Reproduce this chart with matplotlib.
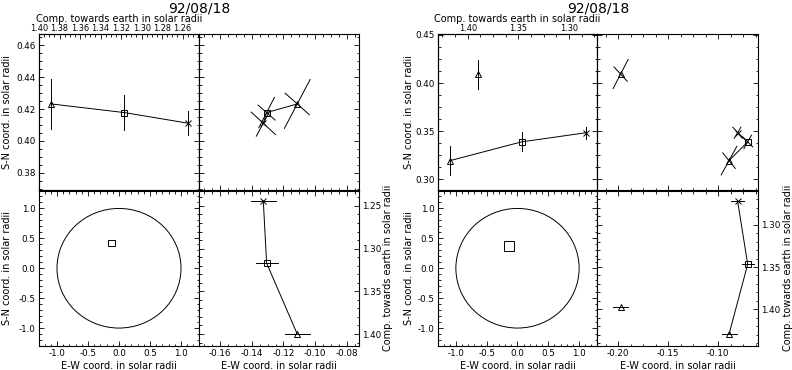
import matplotlib
matplotlib.use("Agg")
import matplotlib.pyplot as plt
from matplotlib.ticker import MultipleLocator, FormatStrFormatter
from matplotlib.patches import Circle, Rectangle

plt.rcParams['font.family'] = ['Liberation Sans Narrow', 'DejaVu Sans']
plt.rcParams['font.size'] = 7
plt.rcParams['xtick.labelsize'] = 6.3
plt.rcParams['ytick.labelsize'] = 6.3
plt.rcParams['axes.unicode_minus'] = False
plt.rcParams['axes.linewidth'] = 0.8

date_label = "92/08/18"
lbl_z = "Comp. towards earth in solar radii"
lbl_sn = "S-N coord. in solar radii"
lbl_ew = "E-W coord. in solar radii"

# left set: triangle, square, cross
left_ew = [-0.1113, -0.1306, -0.1327]
left_sn = [0.4232, 0.4178, 0.4111]
left_z = [1.400, 1.317, 1.244]
left_sn_err = [0.0154, 0.0109, 0.0076]
left_ew_err = [0.0079, 0.0070, 0.0078]
left_arm_a = [(0.0081, 0.0153), (0.0049, 0.0095), (0.0044, 0.0081)]
left_arm_b = [(-0.0076, 0.0067), (-0.0054, 0.0047), (-0.0076, 0.0070)]
left_marks = ['^', 's', 'x']
left_joined = 3

# right set: triangle, square, cross, lone triangle
right_ew = [-0.0893, -0.0706, -0.0807, -0.1977]
right_sn = [0.3195, 0.3390, 0.3485, 0.4094]
right_z = [1.4294, 1.3467, 1.2722, 1.397]
right_sn_err = [0.0153, 0.0099, 0.0064, 0.0151]
right_ew_err = [0.0075, 0.0058, 0.0062, 0.0072]
right_arm_a = [(0.0078, 0.0148), (0.0038, 0.0070), (0.0033, 0.0057), (0.0075, 0.0151)]
right_arm_b = [(-0.0063, 0.0081), (-0.0050, 0.0052), (-0.0047, 0.0057), (-0.0067, 0.0075)]
right_marks = ['^', 's', 'x', '^']
right_joined = 3

W, H = 792, 370
fig = plt.figure(figsize=(W / 100, H / 100), dpi=100)


def box(x0, y0, x1, y1):
    # pixel box (top-left origin) -> figure fraction
    return [x0 / W, 1 - y1 / H, (x1 - x0) / W, (y1 - y0) / H]


def ticks(ax, **kw):
    ax.tick_params(which='both', direction='in', width=0.6, pad=2.5, **kw)
    ax.tick_params(which='major', length=3.5)
    ax.tick_params(which='minor', length=1.8)


def panel_set(xs, cx, ew, sn, z, sn_err, ew_err, arm_a, arm_b, marks, joined,
              ew_lim, sn_lim, z_lim, ew_step, sn_step, z_step, ztop_step, lab_l, lab_r):
    x0, x1, x2 = xs
    y0, y1, y2 = 34, 190.5, 346
    ax_tl = fig.add_axes(box(x0, y0, x1, y1))
    ax_tr = fig.add_axes(box(x1, y0, x2, y1))
    ax_bl = fig.add_axes(box(x0, y1, x1, y2))
    ax_br = fig.add_axes(box(x1, y1, x2, y2))
    kk = dict(color='black', lw=0.7)
    mk = dict(ms=4.5, mfc='none', mec='black', mew=0.7, ls='none')
    n = joined

    # top left: z vs S-N
    ax_tl.plot(z[:n], sn[:n], **kk)
    for i in range(len(z)):
        ax_tl.plot([z[i], z[i]], [sn[i] - sn_err[i], sn[i] + sn_err[i]], **kk)
        ax_tl.plot(z[i], sn[i], marks[i], **mk)
    ax_tl.set_xlim(z_lim)
    ax_tl.set_ylim(sn_lim)
    ax_tl.set_xticks([])
    ax_tl.yaxis.set_major_locator(MultipleLocator(sn_step))
    ax_tl.yaxis.set_minor_locator(MultipleLocator(sn_step / 4))
    ax_tl.yaxis.set_major_formatter(FormatStrFormatter('%.2f'))
    ticks(ax_tl, left=True, right=True)
    ax_tl.set_ylabel(lbl_sn)
    ax_tl.yaxis.set_label_coords(lab_l, 0.5)
    top = ax_tl.twiny()
    top.set_xlim(max(z), min(z))
    top.xaxis.set_major_locator(MultipleLocator(ztop_step))
    top.xaxis.set_minor_locator(MultipleLocator(ztop_step / 4))
    top.xaxis.set_major_formatter(FormatStrFormatter('%.2f'))
    ticks(top, top=True, bottom=False)
    top.tick_params(pad=1, labelsize=5.9)
    top.set_xlabel(lbl_z, labelpad=1.5)

    # top right: E-W vs S-N with tilted error crosses
    ax_tr.plot(ew[:n], sn[:n], **kk)
    for i in range(len(ew)):
        for a in (arm_a[i], arm_b[i]):
            ax_tr.plot([ew[i] - a[0], ew[i] + a[0]], [sn[i] - a[1], sn[i] + a[1]], **kk)
        ax_tr.plot(ew[i], sn[i], marks[i], **mk)
    ax_tr.set_xlim(ew_lim)
    ax_tr.set_ylim(sn_lim)
    ax_tr.xaxis.set_major_locator(MultipleLocator(ew_step))
    ax_tr.xaxis.set_minor_locator(MultipleLocator(ew_step / 4))
    ax_tr.yaxis.set_major_locator(MultipleLocator(sn_step))
    ax_tr.yaxis.set_minor_locator(MultipleLocator(sn_step / 4))
    ticks(ax_tr, top=True, bottom=True, left=True, right=True,
          labelbottom=False, labelleft=False)

    # bottom left: solar disk with the zoom box
    ax_bl.add_patch(Circle((0, 0), 1.0, fill=False, ec='black', lw=0.7))
    ax_bl.add_patch(Rectangle((ew_lim[0], sn_lim[0]), ew_lim[1] - ew_lim[0],
                              sn_lim[1] - sn_lim[0], fill=False, ec='black', lw=0.7))
    ax_bl.set_xlim(-1.29, 1.29)
    ax_bl.set_ylim(-1.30, 1.30)
    for axis in (ax_bl.xaxis, ax_bl.yaxis):
        axis.set_major_locator(MultipleLocator(0.5))
        axis.set_minor_locator(MultipleLocator(0.1))
        axis.set_major_formatter(FormatStrFormatter('%.1f'))
    ticks(ax_bl, top=True, right=True)
    ax_bl.set_xlabel(lbl_ew, labelpad=2)
    ax_bl.set_ylabel(lbl_sn)
    ax_bl.yaxis.set_label_coords(lab_l, 0.5)

    # bottom right: E-W vs z
    ax_br.plot(ew[:n], z[:n], **kk)
    for i in range(len(ew)):
        ax_br.plot([ew[i] - ew_err[i], ew[i] + ew_err[i]], [z[i], z[i]], **kk)
        ax_br.plot(ew[i], z[i], marks[i], **mk)
    ax_br.set_xlim(ew_lim)
    ax_br.set_ylim(z_lim)
    ax_br.xaxis.set_major_locator(MultipleLocator(ew_step))
    ax_br.xaxis.set_minor_locator(MultipleLocator(ew_step / 4))
    ax_br.xaxis.set_major_formatter(FormatStrFormatter('%.2f'))
    ax_br.yaxis.set_major_locator(MultipleLocator(z_step))
    ax_br.yaxis.set_minor_locator(MultipleLocator(z_step / 5))
    ax_br.yaxis.set_major_formatter(FormatStrFormatter('%.2f'))
    ax_br.yaxis.set_label_position('right')
    ticks(ax_br, top=True, left=True, right=True, labelleft=False, labelright=True)
    ax_br.set_xlabel(lbl_ew, labelpad=2)
    ax_br.set_ylabel(lbl_z)
    ax_br.yaxis.set_label_coords(lab_r, 0.5)

    fig.text(cx / W, 1 - 8 / H, date_label, ha='center', va='center', fontsize=10)


panel_set((39, 199, 359), 199, left_ew, left_sn, left_z, left_sn_err, left_ew_err,
          left_arm_a, left_arm_b, left_marks, left_joined,
          (-0.1732, -0.0724), (0.369, 0.467), (1.414, 1.232),
          0.02, 0.02, 0.05, 0.02, -0.17, 1.15)
panel_set((438, 597, 758), 598, right_ew, right_sn, right_z, right_sn_err, right_ew_err,
          right_arm_a, right_arm_b, right_marks, right_joined,
          (-0.2213, -0.0603), (0.2885, 0.451), (1.4432, 1.2597),
          0.05, 0.05, 0.05, 0.05, -0.148, 1.155)

fig.savefig("out.png", dpi=100)
